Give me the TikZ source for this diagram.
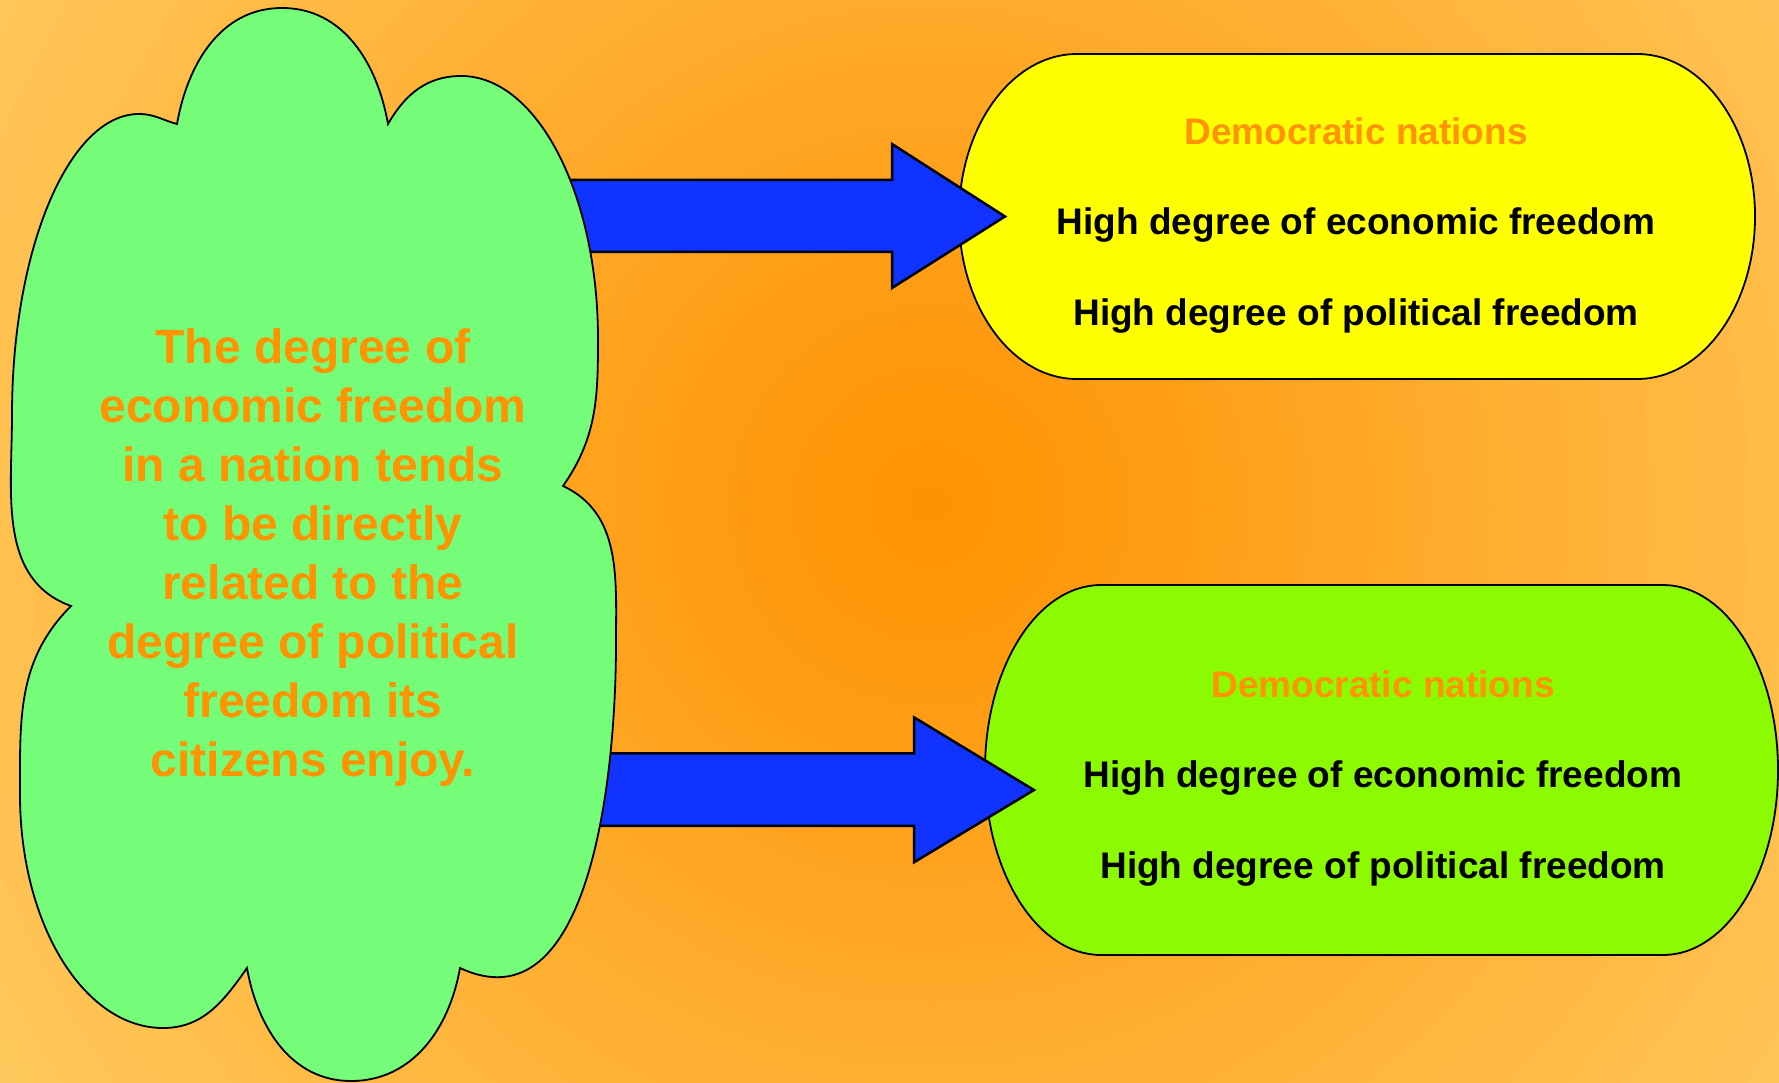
\documentclass[tikz,border=0pt]{standalone}
\usepackage{fontspec}
\setmainfont{Liberation Sans}
\definecolor{bgcentre}{HTML}{FF9100}
\definecolor{bgedge}{HTML}{FFC95D}
\definecolor{cloudgreen}{HTML}{75FC79}
\definecolor{arrowblue}{HTML}{1033FF}
\definecolor{boxyellow}{HTML}{FFFF00}
\definecolor{boxgreen}{HTML}{8CFA00}
\definecolor{textorange}{HTML}{FF9300}

\begin{document}
\begin{tikzpicture}[x=1pt, y=1pt, yscale=-1,
    outline/.style={draw=black, line width=1.8pt},
    blockarrow/.style={draw=black, line width=2.5pt, line join=miter, fill=arrowblue},
    claim/.style={inner sep=0pt, align=center, text=textorange,
      font=\fontsize{48}{59}\selectfont\bfseries},
    boxtext/.style={inner sep=0pt, align=center,
      font=\fontsize{37}{90.5}\selectfont\bfseries}]
  \useasboundingbox (0,0) rectangle (1779,1083);

  % background, rings from the edge colour in to the centre
  \fill[bgedge] (0,0) rectangle (1779,1083);
  \foreach \r [evaluate=\r as \p using {int(\r/11)}] in {1100,1080,...,20}
    \fill[bgedge!\p!bgcentre] (930,505) circle (\r);

  % result boxes
  \draw[outline, fill=boxyellow] (1077,54) -- (1637,54)
    arc[start angle=-90, end angle=90, x radius=118, y radius=162.5]
    -- (1077,379)
    arc[start angle=90, end angle=270, x radius=118, y radius=162.5] -- cycle;
  \node[boxtext] (demA) at (1356,225.5)
    {\textcolor{textorange}{Democratic nations}\\
     High degree of economic freedom\\
     High degree of political freedom};

  \draw[outline, fill=boxgreen] (1101,585) -- (1663,585)
    arc[start angle=-90, end angle=90, x radius=115, y radius=185]
    -- (1101,955)
    arc[start angle=90, end angle=270, x radius=116, y radius=185] -- cycle;
  \node[boxtext] (demB) at (1383,778.5)
    {\textcolor{textorange}{Democratic nations}\\
     High degree of economic freedom\\
     High degree of political freedom};

  % arrows
  \coordinate (tipA) at (1005,216.5);
  \coordinate (tipB) at (1034,790);
  \draw[blockarrow] (tipA) -- ++(-113,71.5) -- ++(0,-36) -- ++(-340,0)
    -- ++(0,-72) -- ++(340,0) -- ++(0,-36) -- cycle;
  \draw[blockarrow] (tipB) -- ++(-120,72.3) -- ++(0,-36.5) -- ++(-340,0)
    -- ++(0,-72.5) -- ++(340,0) -- ++(0,-36) -- cycle;

  % cloud
  \draw[outline, fill=cloudgreen] (177,124)
    to[out=-80, in=180] (282,8) to[out=0, in=-100] (388,124)
    to[out=-60, in=180] (461,76) .. controls (537,76) and (598,194) .. (598,339)
    to[out=90, in=-55] (563,486)
    to[out=25, in=-90] (616,643) to[out=90, in=25] (460,968)
    to[out=100, in=0] (351,1081) to[out=180, in=80] (247,968)
    to[out=125, in=0] (163,1028) .. controls (84,1028) and (20,924) .. (20,795)
    to[out=-90, in=135] (71,606)
    to[out=200, in=90] (12,415) .. controls (12,249) and (69,114) .. (139,114)
    to[out=0, in=195] cycle;
  \node[claim] (text) at (313,557.5)
    {The degree of\\economic freedom\\in a nation tends\\to be directly\\
     related to the\\degree of political\\freedom its\\citizens enjoy.};
\end{tikzpicture}
\end{document}
